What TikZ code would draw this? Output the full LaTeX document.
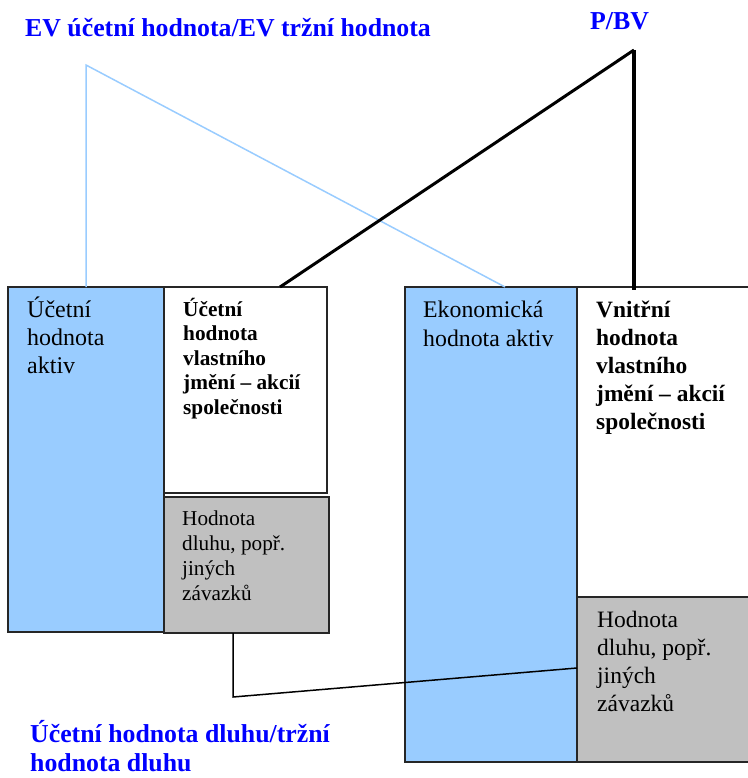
\documentclass[tikz,border=0pt]{standalone}
\usepackage{fontspec}
\setmainfont{Liberation Serif}
\usetikzlibrary{positioning}
\usetikzlibrary{calc}

\definecolor{aktiva}{RGB}{153,204,255}
\definecolor{dluh}{RGB}{192,192,192}
\definecolor{popis}{RGB}{0,0,255}

\begin{document}
\begin{tikzpicture}[
	x = 1pt, y = -1pt,
	box/.style = {
	  draw, line width = 1.5pt, black!85,
	  anchor = north west,
	  inner sep = 0pt,
	  outer sep = 0pt,
	},
	txt/.style = {
	  anchor = base west, align = left,
	  inner sep = 0pt, text = black,
	},
	titul/.style = {
	  anchor = base west, align = left,
	  inner sep = 0pt, text = popis,
	  font = \bfseries\fontsize{25.8}{28.5}\selectfont,
	},
  ]
  \useasboundingbox (0,0) rectangle (747,778);

  % rozvaha - ucetni hodnoty
  \node[box, fill = aktiva, minimum width = 156pt, minimum height = 345pt] (LA) at (8,287) {};
  \node[box, fill = white, minimum width = 163pt, minimum height = 206pt] (LV) at (164,287) {};
  \node[box, fill = dluh, minimum width = 165pt, minimum height = 136pt] (LD) at (164,497) {};

  % rozvaha - trzni hodnoty
  \node[box, fill = aktiva, minimum width = 172pt, minimum height = 475pt] (RA) at (405,287) {};
  \node[box, fill = white, minimum width = 174pt, minimum height = 310pt] (RV) at (577,287) {};
  \node[box, fill = dluh, minimum width = 174pt, minimum height = 165pt] (RD) at (577,597) {};

  % base = posledni radek textu
  \node[txt, font = \fontsize{24}{28}\selectfont] (LAt) at ($(LA.north west)+(19,86)$)
	{Účetní\\hodnota\\aktiv};
  \node[txt, font = \bfseries\fontsize{21.3}{24.6}\selectfont] (LVt) at ($(LV.north west)+(19,127.4)$)
	{Účetní\\hodnota\\vlastního\\jmění – akcií\\společnosti};
  \node[txt, font = \fontsize{21.2}{25}\selectfont] (LDt) at ($(LD.north west)+(18,103)$)
	{Hodnota\\dluhu, popř.\\jiných\\závazků};
  \node[txt, font = \fontsize{23.8}{29.3}\selectfont] (RAt) at ($(RA.north west)+(18,59.3)$)
	{Ekonomická\\hodnota aktiv};
  \node[txt, font = \bfseries\fontsize{23.4}{28.2}\selectfont] (RVt) at ($(RV.north west)+(19,142.8)$)
	{Vnitřní\\hodnota\\vlastního\\jmění – akcií\\společnosti};
  \node[txt, font = \fontsize{23.5}{28.3}\selectfont] (RDt) at ($(RD.north west)+(20,114.9)$)
	{Hodnota\\dluhu, popř.\\jiných\\závazků};

  % ukazatele
  \node[titul] (EV) at (25,37) {EV účetní hodnota/EV tržní hodnota};
  \node[titul] (PBV) at (590,30) {P/BV};
  \node[titul] (DL) at (30,771) {Účetní hodnota dluhu/tržní\\hodnota dluhu};

  \coordinate (EVtop) at (86,65);
  \coordinate (PBVtop) at (634,50);
  \coordinate (DLdole) at (233,697);

  \draw[aktiva, line width = 1.5pt]
	($(LA.north west)+(78,0)$) -- (EVtop) -- ($(RA.north west)+(100,0)$);
  \draw[black, line width = 3pt]
	($(LV.north west)+(116,0)$) -- (PBVtop);
  \draw[black, line width = 4pt]
	(PBVtop) -- ($(RV.north west)+(57,3)$);
  \draw[black, line width = 1.5pt]
	($(LD.south west)+(69,0)$) -- (DLdole) -- ($(RA.north east)+(0,381)$);
\end{tikzpicture}
\end{document}
